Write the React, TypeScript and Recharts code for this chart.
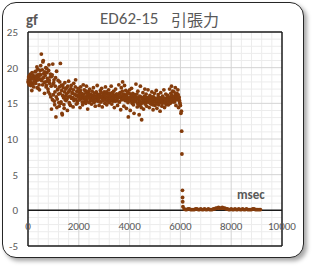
import { ScatterChart, Scatter, XAxis, YAxis, ReferenceLine } from "recharts";

// time (msec) and pull force (gf)
const timeMs = [
  0, 25, 50, 75, 100, 125, 150, 175, 200, 225,
  250, 275, 300, 325, 350, 375, 400, 425, 450, 475,
  500, 525, 550, 575, 600, 625, 650, 675, 700, 725,
  750, 775, 800, 825, 850, 875, 900, 925, 950, 975,
  1000, 1025, 1050, 1075, 1100, 1125, 1150, 1175, 1200, 1225,
  1250, 1275, 1300, 1325, 1350, 1375, 1400, 1425, 1450, 1475,
  1500, 1525, 1550, 1575, 1600, 1625, 1650, 1675, 1700, 1725,
  1750, 1775, 1800, 1825, 1850, 1875, 1900, 1925, 1950, 1975,
  2000, 2025, 2050, 2075, 2100, 2125, 2150, 2175, 2200, 2225,
  2250, 2275, 2300, 2325, 2350, 2375, 2400, 2425, 2450, 2475,
  2500, 2525, 2550, 2575, 2600, 2625, 2650, 2675, 2700, 2725,
  2750, 2775, 2800, 2825, 2850, 2875, 2900, 2925, 2950, 2975,
  3000, 3025, 3050, 3075, 3100, 3125, 3150, 3175, 3200, 3225,
  3250, 3275, 3300, 3325, 3350, 3375, 3400, 3425, 3450, 3475,
  3500, 3525, 3550, 3575, 3600, 3625, 3650, 3675, 3700, 3725,
  3750, 3775, 3800, 3825, 3850, 3875, 3900, 3925, 3950, 3975,
  4000, 4025, 4050, 4075, 4100, 4125, 4150, 4175, 4200, 4225,
  4250, 4275, 4300, 4325, 4350, 4375, 4400, 4425, 4450, 4475,
  4500, 4525, 4550, 4575, 4600, 4625, 4650, 4675, 4700, 4725,
  4750, 4775, 4800, 4825, 4850, 4875, 4900, 4925, 4950, 4975,
  5000, 5025, 5050, 5075, 5100, 5125, 5150, 5175, 5200, 5225,
  5250, 5275, 5300, 5325, 5350, 5375, 5400, 5425, 5450, 5475,
  5500, 5525, 5550, 5575, 5600, 5625, 5650, 5675, 5700, 5725,
  5750, 5775, 5800, 5825, 5850, 5875, 5900, 5925, 5950, 5975,
  6000, 6020, 6040, 6050, 6060, 6080, 6085, 6090, 6100,
  6150, 6250, 6350, 6450, 6550, 6650, 6750, 6850, 6950, 7050,
  7150, 7250, 7350, 7450, 7550, 7650, 7750, 7850, 7950, 8050,
  8150, 8250, 8350, 8450, 8550, 8650, 8750, 8850, 8950, 9050, 9150,
];

const forceGf = [
  18.0, 18.7, 17.6, 18.3, 19.1, 17.9, 16.8, 18.5, 18.9, 17.3,
  18.6, 19.4, 17.8, 18.2, 20.1, 19.0, 17.1, 18.8, 16.9, 19.6,
  20.3, 21.9, 18.4, 17.6, 21.0, 19.2, 16.4, 18.9, 20.0, 17.5,
  19.3, 18.1, 16.6, 20.4, 17.8, 18.7, 15.9, 14.2, 19.0, 20.5,
  16.2, 18.3, 14.8, 17.4, 13.1, 19.5, 15.6, 17.0, 16.3, 14.6,
  18.0, 20.6, 15.2, 16.8, 13.4, 17.6, 15.8, 14.3, 17.9, 16.0,
  15.4, 17.2, 14.0, 16.5, 18.1, 15.1, 16.9, 14.7, 17.5, 15.8,
  16.4, 14.5, 17.8, 15.6, 16.2, 18.3, 14.9, 16.7, 15.3, 17.1,
  15.9, 16.6, 14.4, 17.3, 15.7, 16.1, 14.8, 17.6, 16.3, 15.2,
  16.8, 15.0, 17.4, 15.6, 14.2, 16.4, 15.9, 17.0, 15.4, 16.2,
  14.9, 16.7, 15.5, 17.2, 15.1, 16.0, 14.6, 16.5, 15.8, 17.5,
  15.3, 16.1, 14.7, 15.9, 16.8, 15.2, 17.1, 14.5, 16.3, 15.7,
  16.6, 15.0, 17.3, 15.8, 14.8, 16.4, 15.5, 16.9, 15.1, 16.2,
  15.6, 17.4, 14.9, 16.0, 15.3, 16.7, 14.4, 15.9, 17.0, 15.4,
  16.3, 14.7, 15.8, 17.6, 15.2, 16.5, 14.1, 17.2, 15.7, 18.0,
  16.1, 14.6, 17.5, 15.4, 16.8, 14.3, 15.9, 16.6, 13.1, 15.5,
  16.9, 14.0, 15.7, 17.1, 15.0, 16.4, 14.8, 13.6, 16.2, 15.3,
  17.7, 15.6, 14.5, 16.7, 15.1, 13.4, 16.0, 17.4, 14.9, 12.7,
  15.8, 16.5, 14.2, 15.4, 17.0, 15.0, 16.3, 14.6, 15.7, 16.9,
  15.2, 14.4, 16.1, 15.6, 14.9, 16.6, 15.3, 14.1, 15.9, 16.4,
  14.7, 15.5, 16.8, 14.3, 15.1, 16.2, 14.8, 15.8, 13.9, 16.5,
  15.4, 14.6, 16.0, 15.2, 16.9, 14.4, 15.7, 16.3, 14.9, 15.5,
  16.1, 14.8, 15.6, 17.0, 15.0, 16.4, 17.4, 15.3, 16.7, 15.9,
  16.6, 15.2, 17.2, 14.7, 16.0, 15.5, 16.9, 14.4, 15.8, 15.1,
  14.7, 13.6, 13.9, 11.1, 7.9, 2.8, 1.8, 1.2, 0.5,
  0.2, 0.1, 0.2, 0.1, 0.1, 0.2, 0.1, 0.1, 0.2, 0.1,
  0.1, 0.1, 0.2, 0.3, 0.3, 0.4, 0.3, 0.2, 0.1, 0.1,
  0.2, 0.1, 0.1, 0.2, 0.1, 0.1, 0.1, 0.2, 0.1, 0.1, 0.1,
];

// the in-between samples, which make the cloud dense
const timeMsB = [
  12, 37, 62, 87, 112, 137, 162, 187, 212, 237,
  262, 287, 312, 337, 362, 387, 412, 437, 462, 487,
  512, 537, 562, 587, 612, 637, 662, 687, 712, 737,
  762, 787, 812, 837, 862, 887, 912, 937, 962, 987,
  1012, 1037, 1062, 1087, 1112, 1137, 1162, 1187, 1212, 1237,
  1262, 1287, 1312, 1337, 1362, 1387, 1412, 1437, 1462, 1487,
  1512, 1537, 1562, 1587, 1612, 1637, 1662, 1687, 1712, 1737,
  1762, 1787, 1812, 1837, 1862, 1887, 1912, 1937, 1962, 1987,
  2012, 2037, 2062, 2087, 2112, 2137, 2162, 2187, 2212, 2237,
  2262, 2287, 2312, 2337, 2362, 2387, 2412, 2437, 2462, 2487,
  2512, 2537, 2562, 2587, 2612, 2637, 2662, 2687, 2712, 2737,
  2762, 2787, 2812, 2837, 2862, 2887, 2912, 2937, 2962, 2987,
  3012, 3037, 3062, 3087, 3112, 3137, 3162, 3187, 3212, 3237,
  3262, 3287, 3312, 3337, 3362, 3387, 3412, 3437, 3462, 3487,
  3512, 3537, 3562, 3587, 3612, 3637, 3662, 3687, 3712, 3737,
  3762, 3787, 3812, 3837, 3862, 3887, 3912, 3937, 3962, 3987,
  4012, 4037, 4062, 4087, 4112, 4137, 4162, 4187, 4212, 4237,
  4262, 4287, 4312, 4337, 4362, 4387, 4412, 4437, 4462, 4487,
  4512, 4537, 4562, 4587, 4612, 4637, 4662, 4687, 4712, 4737,
  4762, 4787, 4812, 4837, 4862, 4887, 4912, 4937, 4962, 4987,
  5012, 5037, 5062, 5087, 5112, 5137, 5162, 5187, 5212, 5237,
  5262, 5287, 5312, 5337, 5362, 5387, 5412, 5437, 5462, 5487,
  5512, 5537, 5562, 5587, 5612, 5637, 5662, 5687, 5712, 5737,
  5762, 5787, 5812, 5837, 5862, 5887, 5912, 5937, 5962, 5987,
  6200, 6300, 6400, 6500, 6600, 6700, 6800, 6900, 7000, 7100,
  7200, 7300, 7400, 7500, 7600, 7700, 7800, 7900, 8000, 8100,
  8200, 8300, 8400, 8500, 8600, 8700, 8800, 8900, 9000, 9100,
];

const forceGfB = [
  18.3, 17.8, 18.9, 18.1, 17.5, 18.6, 19.3, 17.7, 18.4, 18.0,
  17.9, 18.8, 19.5, 18.5, 17.2, 19.8, 18.3, 17.6, 19.1, 18.4,
  19.0, 18.2, 19.7, 20.8, 18.6, 17.9, 19.4, 18.0, 17.3, 19.9,
  18.5, 17.0, 19.6, 18.2, 16.3, 19.1, 17.4, 18.8, 15.5, 17.7,
  17.9, 15.3, 16.6, 18.6, 15.9, 14.4, 16.9, 18.2, 15.1, 17.3,
  16.4, 15.0, 17.5, 13.6, 16.1, 17.2, 14.8, 16.6, 15.5, 17.0,
  16.3, 15.6, 17.4, 15.9, 16.7, 14.9, 16.0, 17.1, 15.7, 16.5,
  15.8, 16.9, 15.4, 16.3, 17.3, 15.6, 16.1, 15.0, 16.6, 15.9,
  16.2, 15.5, 16.8, 15.9, 16.4, 15.2, 16.0, 15.7, 16.9, 15.6,
  15.9, 16.5, 15.3, 16.2, 15.8, 16.7, 15.1, 16.3, 15.7, 15.5,
  16.1, 15.4, 16.0, 15.7, 16.4, 15.3, 15.9, 16.6, 15.5, 16.2,
  15.8, 15.6, 16.3, 15.2, 15.9, 16.5, 15.7, 16.0, 15.4, 16.1,
  15.5, 16.2, 15.9, 16.6, 15.3, 15.8, 16.1, 15.6, 16.4, 15.7,
  16.0, 15.4, 16.5, 15.7, 16.2, 15.5, 16.0, 15.3, 15.9, 16.3,
  15.6, 16.1, 15.9, 15.2, 16.4, 15.8, 16.0, 15.5, 16.7, 16.2,
  15.7, 16.3, 15.5, 16.0, 15.4, 16.2, 15.8, 15.1, 15.6, 16.4,
  15.3, 15.9, 16.2, 15.5, 16.0, 15.2, 15.7, 16.1, 15.4, 15.9,
  15.6, 16.3, 15.0, 15.8, 15.5, 14.7, 15.3, 15.9, 14.4, 15.6,
  15.1, 15.7, 15.4, 16.0, 14.9, 15.6, 15.3, 15.8, 15.2, 15.5,
  15.8, 15.3, 15.0, 15.6, 15.4, 15.9, 14.8, 15.5, 15.2, 15.7,
  15.2, 15.6, 15.0, 15.4, 15.8, 14.9, 15.5, 15.1, 15.7, 15.3,
  15.5, 15.0, 15.3, 15.7, 15.1, 15.6, 15.2, 14.8, 15.4, 15.9,
  15.3, 15.7, 15.1, 15.5, 15.9, 15.4, 16.1, 15.6, 15.2, 15.8,
  16.0, 15.5, 16.3, 15.8, 16.4, 15.6, 16.2, 15.9, 15.4, 14.9,
  0.1, 0.2, 0.1, 0.1, 0.2, 0.1, 0.2, 0.1, 0.1, 0.2,
  0.1, 0.2, 0.3, 0.4, 0.3, 0.3, 0.2, 0.1, 0.2, 0.1,
  0.1, 0.2, 0.1, 0.1, 0.2, 0.1, 0.1, 0.2, 0.1, 0.1,
];

const xTicks = [0, 2000, 4000, 6000, 8000, 10000];
const yTicks = [-5, 0, 5, 10, 15, 20, 25];
const xMinor = [
  400, 800, 1200, 1600, 2400, 2800, 3200, 3600, 4400, 4800, 5200, 5600,
  6400, 6800, 7200, 7600, 8400, 8800, 9200, 9600,
];
const yMinor = [
  -4, -3, -2, -1, 1, 2, 3, 4, 6, 7, 8, 9, 11, 12, 13, 14, 16, 17, 18, 19,
  21, 22, 23, 24,
];

const FONT = "Calibri, Carlito, 'Open Sans', 'Noto Sans', sans-serif";
const TEXT_GRAY = "#595959";
const DOT = "#843c0c";

const data = [
  ...timeMs.map((t, i) => ({ t, f: forceGf[i] })),
  ...timeMsB.map((t, i) => ({ t, f: forceGfB[i] })),
];

// x labels sit just under the zero line, like Excel's crossing axis
const renderXTick = ({ x, y, payload }: any) => (
  <text x={x} y={y} dy={-16} textAnchor="middle" fill={TEXT_GRAY} fontSize={11} fontFamily={FONT}>
    {payload.value}
  </text>
);

const renderDot = ({ cx, cy }: any) => <circle cx={cx} cy={cy} r={1.9} fill={DOT} />;

export default function App() {
  return (
    <div style={{ position: "fixed", left: 0, top: 0, width: 313, height: 268, background: "#fff" }}>
      <div
        style={{
          position: "absolute",
          left: 2,
          top: 2,
          width: 300,
          height: 254,
          border: "1.5px solid #262626",
          borderRadius: 14,
          boxShadow: "3px 3px 4px rgba(0,0,0,0.35)",
          background: "#fff",
        }}
      />
      <div style={{ position: "absolute", left: 0, top: 0 }}>
        <ScatterChart width={313} height={268} margin={{ top: 32, right: 31, bottom: 0, left: 8 }}>
          <XAxis
            type="number"
            dataKey="t"
            domain={[0, 10000]}
            ticks={xTicks}
            interval={0}
            height={22}
            axisLine={false}
            tickLine={false}
            tickSize={0}
            tickMargin={0}
            tick={renderXTick}
          />
          <YAxis
            type="number"
            dataKey="f"
            domain={[-5, 25]}
            ticks={yTicks}
            interval={0}
            width={20}
            axisLine={false}
            tickLine={false}
            tickSize={0}
            tickMargin={10}
            tick={{ fill: TEXT_GRAY, fontSize: 11, fontFamily: FONT }}
          />
          {xMinor.map((v) => (
            <ReferenceLine key={`xm${v}`} x={v} stroke="#ececec" strokeWidth={1} />
          ))}
          {yMinor.map((v) => (
            <ReferenceLine key={`ym${v}`} y={v} stroke="#ececec" strokeWidth={1} />
          ))}
          {xTicks.slice(1, -1).map((v) => (
            <ReferenceLine key={`xM${v}`} x={v} stroke="#d4d4d4" strokeWidth={1} />
          ))}
          {yTicks.slice(1, -1).map((v) => (
            <ReferenceLine key={`yM${v}`} y={v} stroke="#d4d4d4" strokeWidth={1} />
          ))}
          <ReferenceLine y={0} stroke="#1a1a1a" strokeWidth={1.5} />
          <ReferenceLine x={0} stroke="#1a1a1a" strokeWidth={1.5} />
          <ReferenceLine x={10000} stroke="#1a1a1a" strokeWidth={1.5} />
          <ReferenceLine y={25} stroke="#1a1a1a" strokeWidth={1.5} />
          <ReferenceLine y={-5} stroke="#1a1a1a" strokeWidth={1.5} />
          <Scatter data={data} fill={DOT} shape={renderDot} isAnimationActive={false} />
        </ScatterChart>
      </div>
      <div
        style={{
          position: "absolute",
          left: 100,
          top: 8,
          fontFamily: FONT,
          fontSize: 17,
          color: TEXT_GRAY,
          whiteSpace: "nowrap",
        }}
      >
        ED62-15
      </div>
      <div
        style={{
          position: "absolute",
          left: 171,
          top: 7,
          fontFamily: "'Noto Sans CJK JP', sans-serif",
          fontSize: 16,
          color: TEXT_GRAY,
          whiteSpace: "nowrap",
        }}
      >
        引張力
      </div>
      <div
        style={{
          position: "absolute",
          left: 26,
          top: 11,
          fontFamily: FONT,
          fontSize: 15,
          fontWeight: 700,
          color: TEXT_GRAY,
        }}
      >
        gf
      </div>
      <div
        style={{
          position: "absolute",
          left: 237,
          top: 187,
          fontFamily: FONT,
          fontSize: 13,
          fontWeight: 700,
          color: TEXT_GRAY,
        }}
      >
        msec
      </div>
    </div>
  );
}
